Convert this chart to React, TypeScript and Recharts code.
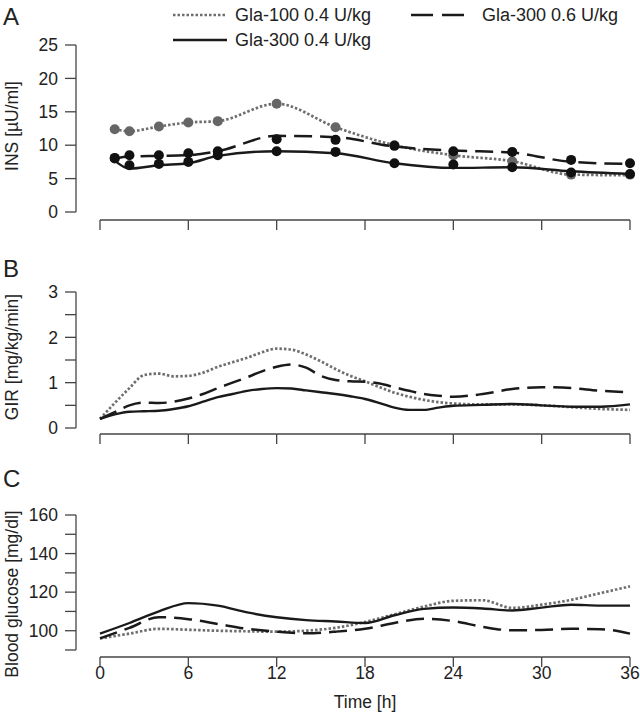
import React from "react";
import { ComposedChart, Line, Scatter, XAxis, YAxis } from "recharts";

// shared time axis
const timeTicks = [0, 6, 12, 18, 24, 30, 36];

// A: insulin (sample points + smoothed curves)
const insTimes = [1, 2, 4, 6, 8, 12, 16, 20, 24, 28, 32, 36];
const insGla100 = [12.4, 12.1, 12.8, 13.4, 13.6, 16.2, 12.7, 10.0, 8.5, 7.6, 5.6, 5.5];
const insGla100Dots = [12.4, 12.1, 12.8, 13.4, 13.6, 16.2, 12.7, 10.0, 8.5, 7.6, 5.6, 5.6];
const insGla300hi = [8.0, 8.3, 8.4, 8.5, 9.1, 11.4, 11.2, 9.8, 9.2, 8.9, 7.5, 7.2];
const insGla300hiDots = [8.1, 8.5, 8.5, 8.8, 9.1, 10.9, 10.8, 9.9, 9.1, 9.0, 7.8, 7.3];
const insGla300lo = [7.7, 6.5, 7.0, 7.3, 8.4, 9.1, 8.8, 7.3, 6.6, 6.7, 6.1, 5.7];
const insGla300loDots = [8.0, 7.0, 7.2, 7.5, 8.5, 9.1, 9.0, 7.3, 7.1, 6.7, 5.9, 5.7];
const insTicks = [0, 5, 10, 15, 20, 25];

// B: glucose infusion rate
const girTimes = [0, 1, 2, 3, 4, 5, 6, 7, 8, 9, 10, 11, 12, 13, 14, 15, 16, 17, 18, 19, 20, 21, 22, 23, 24, 26, 28, 30, 32, 34, 36];
const girGla100 = [0.2, 0.55, 0.88, 1.17, 1.2, 1.14, 1.15, 1.22, 1.35, 1.45, 1.55, 1.67, 1.75, 1.73, 1.62, 1.47, 1.3, 1.15, 1.03, 0.9, 0.78, 0.69, 0.62, 0.57, 0.54, 0.52, 0.52, 0.5, 0.46, 0.42, 0.4];
const girGla300hi = [0.2, 0.35, 0.5, 0.56, 0.55, 0.58, 0.65, 0.75, 0.88, 1.0, 1.12, 1.25, 1.35, 1.4, 1.33, 1.15, 1.06, 1.03, 1.02, 0.98, 0.9, 0.82, 0.75, 0.71, 0.69, 0.75, 0.86, 0.9, 0.88, 0.82, 0.79];
const girGla300lo = [0.2, 0.3, 0.36, 0.37, 0.38, 0.42, 0.48, 0.58, 0.68, 0.75, 0.82, 0.86, 0.88, 0.87, 0.83, 0.79, 0.75, 0.7, 0.64, 0.55, 0.45, 0.4, 0.4, 0.45, 0.49, 0.51, 0.53, 0.5, 0.47, 0.47, 0.52];
const girTicks = [0, 0.5, 1, 1.5, 2, 2.5, 3];

// C: blood glucose
const bgTimes = [0, 2, 4, 6, 8, 10, 12, 14, 16, 18, 20, 22, 24, 26, 28, 30, 32, 34, 36];
const bgGla100 = [96, 98.5, 101, 100.5, 100, 99.7, 99.5, 100, 101.5, 104.5, 108.5, 112.5, 115.5, 115.8, 111.8, 113.5, 116, 119.5, 123];
const bgGla300hi = [96, 101.5, 107, 106, 103.5, 101, 99.5, 98.7, 99.5, 101, 104, 106.2, 105, 102, 100.2, 100.4, 101, 100.8, 98.5];
const bgGla300lo = [98.5, 104, 110, 114.3, 113, 109.5, 107, 105.5, 104.8, 104, 108, 111.3, 112, 111.5, 110.5, 112, 113.5, 113, 113];
const bgTicks = [90, 100, 110, 120, 130, 140, 150, 160];

const insRows = insTimes.map((t, i) => ({
  t,
  g100: insGla100[i],
  g100Dot: insGla100Dots[i],
  hi: insGla300hi[i],
  hiDot: insGla300hiDots[i],
  lo: insGla300lo[i],
  loDot: insGla300loDots[i],
}));
const girRows = girTimes.map((t, i) => ({ t, g100: girGla100[i], hi: girGla300hi[i], lo: girGla300lo[i] }));
const bgRows = bgTimes.map((t, i) => ({ t, g100: bgGla100[i], hi: bgGla300hi[i], lo: bgGla300lo[i] }));

const FONT = '"Liberation Sans", Arial, Helvetica, sans-serif';
const INK = "#1a1a1a";
const GREY = "#6e6e6e";
const AXIS = "#444";
const TEXT = "#222";
const FS = 17.5;

// x axis drawn R-style: line from first to last tick, ticks hanging down
const X_STEP = (630 - 100) / 6;
const xTick = (withLabels: boolean) => (props: any) => {
  const { x, y, index, payload } = props;
  return (
    <g>
      <line x1={x} y1={y} x2={x} y2={y + 10} stroke={AXIS} strokeWidth={1.3} />
      {index < 6 && <line x1={x} y1={y} x2={x + X_STEP} y2={y} stroke={AXIS} strokeWidth={1.3} />}
      {withLabels && (
        <text x={x} y={y + 22} textAnchor="middle" fontSize={FS} fill={TEXT} fontFamily={FONT}>
          {payload.value}
        </text>
      )}
    </g>
  );
};

const yTickStyle = { fontSize: FS, fill: TEXT, fontFamily: FONT };

const dot = (fill: string) => (p: any) => <circle cx={p.cx} cy={p.cy} r={5} fill={fill} />;

const seriesLines = (curve: "monotone" | "linear") => [
  <Line key="g100" type={curve} dataKey="g100" stroke={GREY} strokeWidth={2.7} strokeDasharray="2.5 2" dot={false} activeDot={false} isAnimationActive={false} />,
  <Line key="hi" type={curve} dataKey="hi" stroke={INK} strokeWidth={2.5} strokeDasharray="18 8" dot={false} activeDot={false} isAnimationActive={false} />,
  <Line key="lo" type={curve} dataKey="lo" stroke={INK} strokeWidth={2.4} dot={false} activeDot={false} isAnimationActive={false} />,
];

const xAxisProps = {
  type: "number" as const,
  dataKey: "t",
  domain: [0, 36],
  ticks: timeTicks,
  interval: 0,
  padding: { left: 24, right: 0 },
  axisLine: false,
  tickLine: false,
  tickSize: 0,
};

const yAxisProps = {
  type: "number" as const,
  width: 50,
  interval: 0,
  tickSize: 11,
  tickMargin: 7,
  axisLine: { stroke: AXIS, strokeWidth: 1.3 },
  tickLine: { stroke: AXIS, strokeWidth: 1.3 },
  tick: yTickStyle,
};

const Overlay = () => (
  <svg width={640} height={716} style={{ position: "absolute", left: 0, top: 0, pointerEvents: "none" }} fontFamily={FONT} fill={TEXT}>
    <text x={3} y={25} fontSize={24}>A</text>
    <text x={3} y={277} fontSize={24}>B</text>
    <text x={3} y={487} fontSize={24}>C</text>

    <text x={12} y={126} fontSize={FS} textAnchor="middle" dominantBaseline="central" transform="rotate(-90 12 126)">INS [µU/ml]</text>
    <text x={12} y={357} fontSize={FS} textAnchor="middle" dominantBaseline="central" transform="rotate(-90 12 357)">GIR [mg/kg/min]</text>
    <text x={12} y={594} fontSize={FS} textAnchor="middle" dominantBaseline="central" transform="rotate(-90 12 594)">Blood glucose [mg/dl]</text>

    <line x1={173} y1={15} x2={227} y2={15} stroke={GREY} strokeWidth={2.7} strokeDasharray="2.5 2" />
    <text x={235} y={21} fontSize={18}>Gla-100 0.4 U/kg</text>
    <line x1={411} y1={15} x2={465} y2={15} stroke={INK} strokeWidth={2.5} strokeDasharray="22 9" />
    <text x={482} y={21} fontSize={18}>Gla-300 0.6 U/kg</text>
    <line x1={173} y1={40} x2={227} y2={40} stroke={INK} strokeWidth={2.4} />
    <text x={235} y={46} fontSize={18}>Gla-300 0.4 U/kg</text>

    <text x={365} y={708} fontSize={FS} textAnchor="middle">Time [h]</text>
  </svg>
);

export default function App() {
  return (
    <div style={{ position: "absolute", left: 0, top: 0, width: 640, height: 716, background: "#fff", fontFamily: FONT }}>
      <div style={{ position: "absolute", left: 0, top: 0 }}>
        <ComposedChart width={640} height={242} data={insRows} margin={{ top: 45, right: 10, bottom: 0, left: 26 }}>
          <XAxis {...xAxisProps} tickMargin={8} height={30} tick={xTick(false)} />
          <YAxis {...yAxisProps} domain={[0, 25]} ticks={insTicks} />
          {seriesLines("monotone")}
          <Scatter data={insRows} dataKey="g100Dot" shape={dot("#666")} isAnimationActive={false} />
          <Scatter data={insRows} dataKey="hiDot" shape={dot("#111")} isAnimationActive={false} />
          <Scatter data={insRows} dataKey="loDot" shape={dot("#111")} isAnimationActive={false} />
        </ComposedChart>
      </div>
      <div style={{ position: "absolute", left: 0, top: 250 }}>
        <ComposedChart width={640} height={208} data={girRows} margin={{ top: 42, right: 10, bottom: 0, left: 26 }}>
          <XAxis {...xAxisProps} tickMargin={6} height={30} tick={xTick(false)} />
          <YAxis
            {...yAxisProps}
            domain={[0, 3]}
            ticks={girTicks}
            tickFormatter={(v: number) => (Number.isInteger(v) ? String(v) : "")}
          />
          {seriesLines("monotone")}
        </ComposedChart>
      </div>
      <div style={{ position: "absolute", left: 0, top: 470 }}>
        <ComposedChart width={640} height={220} data={bgRows} margin={{ top: 45, right: 10, bottom: 0, left: 26 }}>
          <XAxis {...xAxisProps} tickMargin={7} height={40} tick={xTick(true)} />
          <YAxis
            {...yAxisProps}
            domain={[90, 160]}
            ticks={bgTicks}
            tickFormatter={(v: number) => (v >= 100 && v % 20 === 0 ? String(v) : "")}
          />
          {seriesLines("monotone")}
        </ComposedChart>
      </div>
      <Overlay />
    </div>
  );
}
